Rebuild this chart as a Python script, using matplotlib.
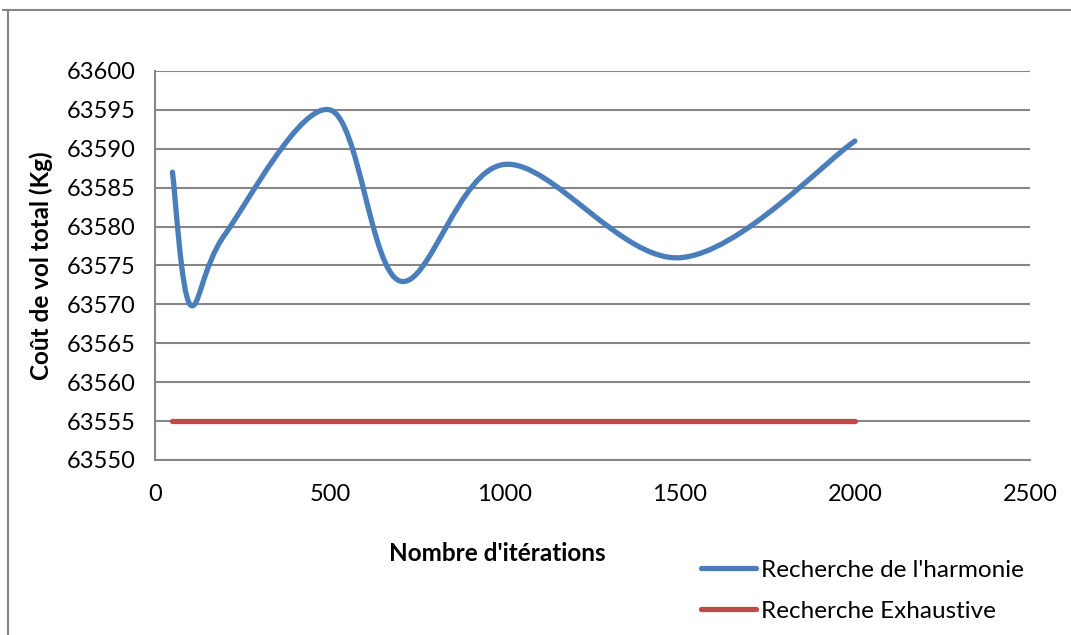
import numpy as np
import matplotlib.pyplot as plt
from matplotlib.path import Path
from matplotlib.patches import PathPatch
from matplotlib.lines import Line2D

# Données
iterations = [50, 100, 200, 500, 700, 1000, 1500, 2000]
cout_harmonie = [63587, 63570, 63579, 63595, 63573, 63588, 63576, 63591]
iter_exhaustive = [50, 2000]
cout_exhaustive = [63555, 63555]

bleu = '#4A7EBB'
rouge = '#BE4B48'
gris = '#868686'

plt.rcParams['font.family'] = ['Lato', 'DejaVu Sans']


# Courbe lissée façon Excel (segments de Bézier, Catmull-Rom)
def chemin_lisse(xs, ys):
    pts = np.column_stack([xs, ys]).astype(float)
    n = len(pts)
    verts = [pts[0]]
    codes = [Path.MOVETO]
    for i in range(n - 1):
        p0 = pts[max(i - 1, 0)]
        p1 = pts[i]
        p2 = pts[i + 1]
        p3 = pts[min(i + 2, n - 1)]
        c1 = p1 + (p2 - p0) / 6
        c2 = p2 - (p3 - p1) / 6
        verts += [c1, c2, p2]
        codes += [Path.CURVE4] * 3
    return Path(verts, codes)


fig = plt.figure(figsize=(10.71, 6.35), dpi=100)
ax = fig.add_axes([0.1447, 0.2756, 0.817, 0.6126])

ax.set_xlim(0, 2500)
ax.set_ylim(63550, 63600)
ax.set_xticks(np.arange(0, 2501, 500))
ax.set_yticks(np.arange(63550, 63601, 5))
ax.yaxis.grid(True, color=gris, linewidth=1.5)
ax.set_axisbelow(True)
for s in ['top', 'right']:
    ax.spines[s].set_visible(False)
for s in ['left', 'bottom']:
    ax.spines[s].set_color(gris)
    ax.spines[s].set_linewidth(1.5)
ax.tick_params(length=0, labelsize=17)
ax.tick_params(axis='x', pad=17)
ax.tick_params(axis='y', pad=14)

patch = PathPatch(chemin_lisse(iterations, cout_harmonie), facecolor='none',
                  edgecolor=bleu, linewidth=3.8, capstyle='round', joinstyle='round')
ax.add_patch(patch)
ax.plot(iter_exhaustive, cout_exhaustive, color=rouge, linewidth=3.8,
        solid_capstyle='round')

ax.set_ylabel('Coût de vol total (Kg)', fontsize=17.5, fontweight='bold', labelpad=10)
ax.set_xlabel("Nombre d'itérations", fontsize=17.5, fontweight='bold')
ax.xaxis.set_label_coords(0.391, -0.212)

poignees = [Line2D([], [], color=bleu, linewidth=3.8, solid_capstyle='round'),
            Line2D([], [], color=rouge, linewidth=3.8, solid_capstyle='round')]
fig.legend(poignees, ["Recherche de l'harmonie", 'Recherche Exhaustive'],
           loc='upper left', bbox_to_anchor=(0.645, 0.134), frameon=False,
           fontsize=17.5, handlelength=2.3, handletextpad=0.17, labelspacing=0.82,
           borderaxespad=0)

# cadre extérieur
fig.add_artist(Line2D([0.0075, 0.0075], [0, 0.984], color=gris, linewidth=1.5))
fig.add_artist(Line2D([0.003, 1.0], [0.984, 0.984], color=gris, linewidth=1.5))

fig.savefig('out.png', dpi=100)
